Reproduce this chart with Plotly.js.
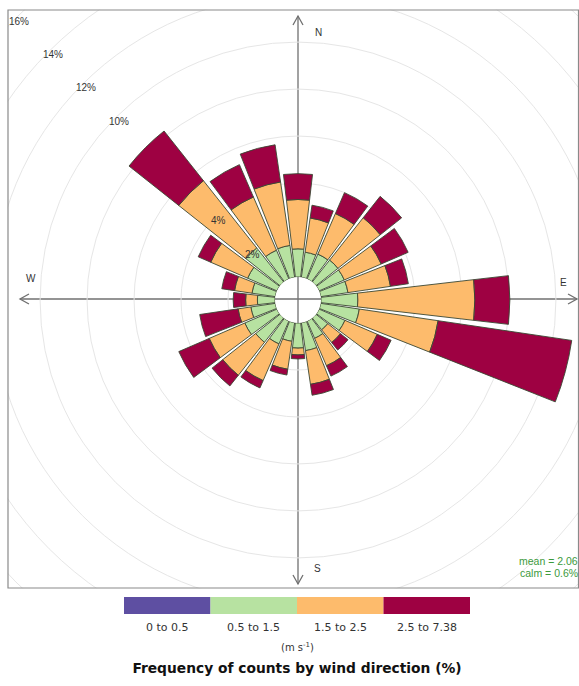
<!DOCTYPE html>
<html><head><meta charset="utf-8">
<script src="https://cdn.plot.ly/plotly-3.0.1.min.js"></script>
<style>html,body{margin:0;padding:0;background:#fff;overflow:hidden}#chart{width:579px;height:686px}</style>
</head><body><div id="chart"></div>
<script>
// ---- data ----
const directions = [0,15,30,45,60,75,90,105,120,135,150,165,180,195,210,225,240,255,270,285,300,315,330,345];
const speedBins = ["0 to 0.5","0.5 to 1.5","1.5 to 2.5","2.5 to 7.38"];
const binColors = ["#5E4FA2","#B7E2A1","#FDBB6C","#9E0142"];
const freq0to05   = [0,0,0,0,0,0,0,0,0,0,0,0,0,0,0,0,0,0,0,0,0,0,0,0];
const freq05to15  = [1.20,1.08,1.15,1.19,1.17,1.17,1.57,1.66,1.20,0.64,0.80,1.20,1.07,0.80,1.06,1.32,1.49,1.05,0.75,1.00,1.36,1.85,1.33,1.37];
const freq15to25  = [2.10,1.47,1.88,2.30,1.71,1.83,4.98,3.39,1.50,0.69,1.27,1.45,0.29,1.20,1.70,1.79,1.65,0.55,0.50,0.75,1.71,3.65,2.47,2.73];
const freq25to738 = [1.10,0.55,0.97,1.16,1.25,0.77,1.49,5.75,0.64,0.41,0.48,0.47,0.17,0.25,0.34,0.58,1.41,1.65,0.53,0.55,0.58,2.70,1.50,1.60];
const gridValues = [2,4,6,8,10,12,14,16];
const labelledGrid = [2,4,10,12,14,16];
const compassLabels = ["N","E","S","W"];
const meanSpeed = "2.06";
const calmPct = "0.6%";
const unitsLabel = "(m s<sup>-1</sup>)";
const keyTitle = "Frequency of counts by wind direction (%)";

// ---- geometry ----
const W = 579, H = 686;
const cx = 298, cy = 300;          // centre of rose (px)
const Rpx = 280, holePx = 23;      // outer radius of polar area, calm hole
const rMax = 10.94;                // radial range shown by the polar axis
const panel = {x0: 8, y0: 10, x1: 578.5, y1: 588};
const px = x => x / W, py = y => 1 - y / H;
const rToPx = v => holePx + (Rpx - holePx) * v / rMax;
const FONT = "Liberation Sans, Arial, sans-serif";
const WIDE = "DejaVu Sans, Liberation Sans, sans-serif";
const AXIS_COL = "#707070";

const series = [freq0to05, freq05to15, freq15to25, freq25to738];
const traces = series.map((vals, i) => ({
  type: "barpolar",
  r: vals,
  theta: directions,
  name: speedBins[i],
  marker: {color: binColors[i], line: {color: "#3b4733", width: 0.9}},
  showlegend: false,
  hoverinfo: "theta+r+name"
}));

const shapes = [];
// outer grid circles beyond the polar area (clipped by the panel masks)
gridValues.filter(v => v > rMax).forEach(v => {
  const r = rToPx(v);
  shapes.push({type: "circle", xref: "paper", yref: "paper", layer: "below",
    x0: px(cx - r), x1: px(cx + r), y0: py(cy + r), y1: py(cy - r),
    line: {color: "#e6e6e6", width: 1}});
});
// white masks outside the panel
shapes.push({type: "rect", xref: "paper", yref: "paper", layer: "below", x0: -1, x1: px(panel.x0) - 0.0005, y0: -1, y1: 2, fillcolor: "#fff", line: {width: 0}});
shapes.push({type: "rect", xref: "paper", yref: "paper", layer: "below", x0: -1, x1: 2, y0: -1, y1: py(panel.y1) - 0.0005, fillcolor: "#fff", line: {width: 0}});
shapes.push({type: "rect", xref: "paper", yref: "paper", layer: "below", x0: -1, x1: 2, y0: py(panel.y0) + 0.0005, y1: 2, fillcolor: "#fff", line: {width: 0}});
// panel border
shapes.push({type: "rect", xref: "paper", yref: "paper", layer: "below",
  x0: px(panel.x0), x1: px(panel.x1), y0: py(panel.y1), y1: py(panel.y0),
  line: {color: "#8a8a8a", width: 1.2}});
// compass axes
const tips = [[cx, 16, 0, 1], [577, cy - 1, -1, 0], [cx, 584, 0, -1], [20, cy - 1, 1, 0]];
shapes.push({type: "line", xref: "paper", yref: "paper", layer: "below",
  x0: px(cx), x1: px(cx), y0: py(tips[0][1]), y1: py(tips[2][1]), line: {color: AXIS_COL, width: 1.3}});
shapes.push({type: "line", xref: "paper", yref: "paper", layer: "below",
  x0: px(tips[3][0]), x1: px(tips[1][0]), y0: py(cy - 1), y1: py(cy - 1), line: {color: AXIS_COL, width: 1.3}});
// open arrow heads at the axis ends
tips.forEach(t => {
  const [x, y, dx, dy] = t, L = 9, S = 5;
  const bx = x + dx * L, by = y + dy * L;
  const ox = dy !== 0 ? S : 0, oy = dx !== 0 ? S : 0;
  const path = `M${px(bx - ox)},${py(by - oy)} L${px(x)},${py(y)} L${px(bx + ox)},${py(by + oy)}`;
  shapes.push({type: "path", xref: "paper", yref: "paper", layer: "below", path: path,
    line: {color: AXIS_COL, width: 1.3}});
});

const annotations = [];
const ann = (x, y, text, size, color, family, extra) => Object.assign({
  xref: "paper", yref: "paper", x: px(x), y: py(y), text: text, showarrow: false,
  xanchor: "center", yanchor: "middle", font: {family: family || FONT, size: size, color: color}
}, extra || {});
// compass letters
[[318, 32], [563, 282], [317, 568], [31, 278]].forEach((p, i) => {
  annotations.push(ann(p[0], p[1], compassLabels[i], 10, "#333"));
});
// grid labels along the NW diagonal
labelledGrid.forEach(v => {
  const r = rToPx(v) - 5;
  annotations.push(ann(cx - r * Math.SQRT1_2, cy - r * Math.SQRT1_2, v + "%", 10, "#333"));
});
// mean / calm
annotations.push(ann(580, 561, "mean = " + meanSpeed, 10.5, "#3c9a3c", FONT, {xanchor: "right"}));
annotations.push(ann(580, 573, "calm = " + calmPct, 10.5, "#3c9a3c", FONT, {xanchor: "right"}));

// colour key
const keyX0 = 124, keyX1 = 470, keyY0 = 597, keyY1 = 614;
const kw = (keyX1 - keyX0) / speedBins.length;
speedBins.forEach((lab, i) => {
  shapes.push({type: "rect", xref: "paper", yref: "paper", layer: "above",
    x0: px(keyX0 + i * kw), x1: px(keyX0 + (i + 1) * kw), y0: py(keyY1), y1: py(keyY0),
    fillcolor: binColors[i], line: {width: 0}});
  annotations.push(ann(keyX0 + (i + 0.5) * kw, 627, lab, 11, "#333", WIDE));
});
annotations.push(ann(297, 647, unitsLabel, 10, "#333", WIDE));

const layout = {
  width: W, height: H,
  margin: {l: 0, r: 0, t: 0, b: 0},
  paper_bgcolor: "#fff",
  showlegend: false,
  title: {
    text: "<b>" + keyTitle + "</b>",
    font: {family: WIDE, size: 13.8, color: "#111"},
    xref: "paper", yref: "container", x: px(297), xanchor: "center",
    y: py(668), yanchor: "middle"
  },
  polar: {
    domain: {x: [px(cx - Rpx), px(cx + Rpx)], y: [py(cy + Rpx), py(cy - Rpx)]},
    bgcolor: "rgba(0,0,0,0)",
    hole: holePx / Rpx,
    barmode: "stack",
    bargap: 0.12,
    radialaxis: {
      range: [0, rMax], tickvals: gridValues.filter(v => v <= rMax),
      showticklabels: false, showline: false, ticks: "", gridcolor: "#e6e6e6", gridwidth: 1
    },
    angularaxis: {
      rotation: 90, direction: "clockwise", showticklabels: false, showgrid: false,
      showline: false, ticks: ""
    }
  },
  shapes: shapes,
  annotations: annotations
};

Plotly.newPlot("chart", traces, layout, {displayModeBar: false, staticPlot: true});
</script>
</body></html>
